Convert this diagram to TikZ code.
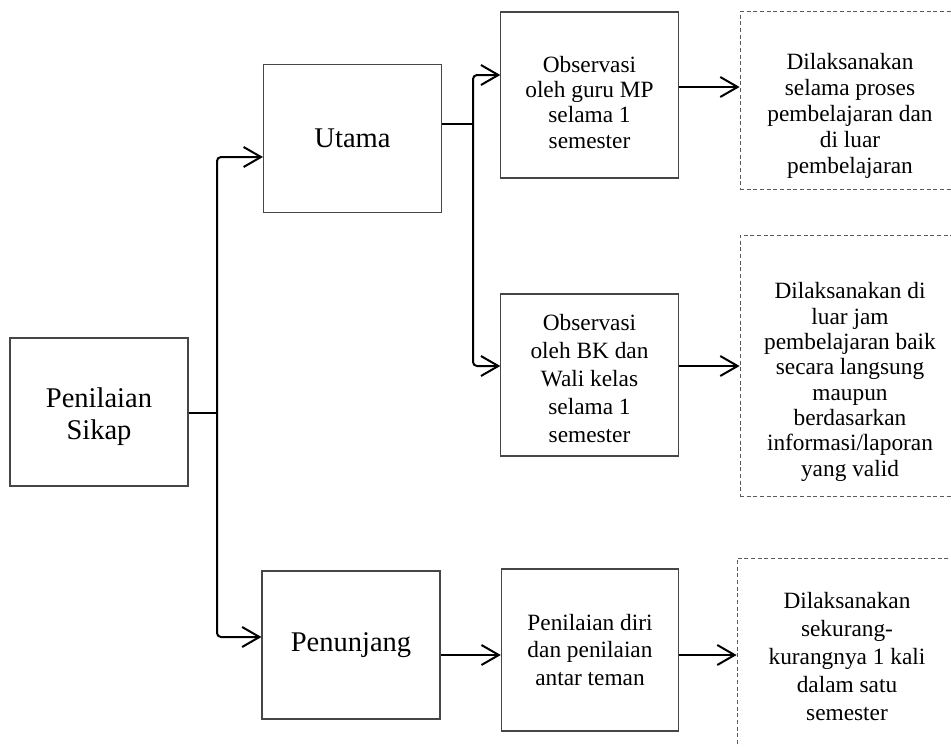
\documentclass[tikz,border=0pt]{standalone}
\usepackage{fontspec}
\setmainfont{Liberation Serif}
\usetikzlibrary{arrows.meta}
\definecolor{BoxGray}{RGB}{70,70,70}
\definecolor{DashGray}{RGB}{90,90,90}

\begin{document}
\begin{tikzpicture}[x=0.75pt, y=-0.75pt,
    mainbox/.style={draw=BoxGray, line width=0.8pt, minimum width=133.5pt, minimum height=111pt, inner sep=0pt, align=center, font=\fontsize{21.4}{24}\selectfont},
    subbox/.style={draw=BoxGray, line width=0.8pt, minimum width=133pt, inner sep=0pt, align=center, font=\fontsize{17.5}{19}\selectfont},
    notebox/.style={draw=DashGray, dash pattern=on 3pt off 2pt, line width=0.6pt, minimum width=165pt, inner sep=0pt, align=center, font=\fontsize{17.5}{18.5}\selectfont},
    pline/.style={line width=1.5pt},
    varrow/.style={-{Straight Barb[length=13pt, width=15pt]}, line width=1.5pt, rounded corners=3pt}
  ]
    \useasboundingbox (0,0) rectangle (951,747);

    \node[mainbox] (sikap) at (99,412) {\rule{0pt}{22pt}Penilaian\\Sikap};
    \node[mainbox] (utama) at (352.5,138.5) {Utama};
    \node[mainbox] (penun) at (351,645) {Penunjang};

    \node[subbox, minimum height=124.5pt] (obs1) at (589.5,95) {\rule{0pt}{23pt}Observasi\\oleh guru MP\\selama 1\\semester};
    \node[subbox, minimum height=121.5pt, font=\fontsize{17.5}{21}\selectfont] (obs2) at (589.5,375) {\rule{0pt}{18pt}Observasi\\oleh BK dan\\Wali kelas\\selama 1\\semester};
    \node[subbox, minimum height=121.5pt, font=\fontsize{17.5}{20.6}\selectfont] (diri) at (590,650) {Penilaian diri\\dan penilaian\\antar teman};

    \node[notebox, minimum height=133pt, font=\fontsize{17.5}{19.4}\selectfont] (dash1) at (850,100.5) {\rule{0pt}{35pt}Dilaksanakan\\selama proses\\pembelajaran dan\\di luar\\pembelajaran};
    \node[notebox, minimum height=195.75pt, font=\fontsize{17.5}{19}\selectfont] (dash2) at (850,365.5) {\rule{0pt}{37pt}Dilaksanakan di\\luar jam\\pembelajaran baik\\secara langsung\\maupun\\berdasarkan\\informasi/laporan\\yang valid};
    \node[notebox, minimum height=148.5pt, font=\fontsize{17.5}{21}\selectfont] (dash3) at (847,657) {Dilaksanakan\\sekurang-\\kurangnya 1 kali\\dalam satu\\semester};

    \coordinate (j1) at (217,413);
    \coordinate (j2) at (473,124);

    \draw[pline] (sikap.east |- j1) -- (j1);
    \draw[varrow] (j1) |- (utama.west |- 0,157);
    \draw[varrow] (j1) |- (penun.west |- 0,637);
    \draw[pline] (utama.east |- j2) -- (j2);
    \draw[varrow] (j2) |- (obs1.west |- 0,75);
    \draw[varrow] (j2) |- (obs2.west |- 0,366);
    \draw[varrow] (obs1.east |- 0,87) -- (dash1.west |- 0,87);
    \draw[varrow] (obs2.east |- 0,366) -- (dash2.west |- 0,366);
    \draw[varrow] (penun.east |- 0,655) -- (diri.west |- 0,655);
    \draw[varrow] (diri.east |- 0,655) -- (dash3.west |- 0,655);
\end{tikzpicture}
\end{document}
